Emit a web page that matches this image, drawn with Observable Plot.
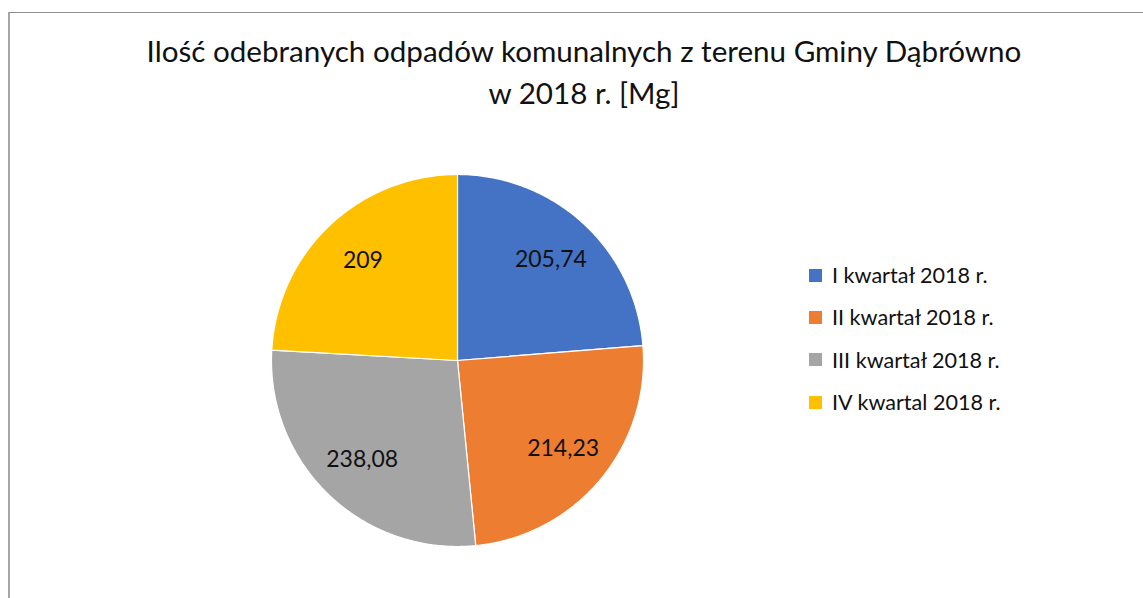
<!DOCTYPE html>
<html><head><meta charset="utf-8">
<script src="https://cdn.jsdelivr.net/npm/d3@7"></script>
<script src="https://cdn.jsdelivr.net/npm/@observablehq/plot@0.6"></script>
<style>
body{margin:0;background:#fff;font-family:Lato,"Open Sans",sans-serif;}
#wrap{position:relative;width:1143px;height:598px;overflow:hidden;background:#fff;}
#frame{position:absolute;left:8px;top:12px;width:1300px;height:800px;border-left:2px solid #a6a6a6;border-top:1px solid #8f8f8f;}
#title{position:absolute;left:0;width:1168px;top:30px;text-align:center;font-size:29.6px;line-height:42px;color:#111;}
#chart{position:absolute;left:0;top:0;}
#legend{position:absolute;left:809px;top:254px;}
.item{display:flex;align-items:center;height:42.3px;font-size:21.6px;color:#111;}
.sw{width:13px;height:13px;margin-right:10px;flex:none;}
</style></head>
<body><div id="wrap"><div id="frame"></div><div id="title"></div><div id="chart"></div><div id="legend"></div></div>
<script>
const categories = ["I kwartał 2018 r.", "II kwartał 2018 r.", "III kwartał 2018 r.", "IV kwartal 2018 r."];
const values = [205.74, 214.23, 238.08, 209];
const valueLabels = ["205,74", "214,23", "238,08", "209"];
const colors = ["#4472C4", "#ED7D31", "#A5A5A5", "#FFC000"];
const titleLines = ["Ilość odebranych odpadów komunalnych z terenu Gminy Dąbrówno", "w 2018 r. [Mg]"];

// title
document.getElementById("title").innerHTML = titleLines.map(t => `<div>${t}</div>`).join("");

// legend
document.getElementById("legend").innerHTML = categories.map((c, i) =>
  `<div class="item"><span class="sw" style="background:${colors[i]}"></span><span>${c}</span></div>`).join("");

// pie geometry from values
const arcs = d3.pie().sort(null).value(d => d)(values);
const slicePts = [];
arcs.forEach((a, i) => {
  slicePts.push({cat: categories[i], x: 0, y: 0});
  const n = Math.max(2, Math.ceil((a.endAngle - a.startAngle) / (Math.PI / 360)));
  for (let k = 0; k <= n; k++) {
    const t = a.startAngle + (a.endAngle - a.startAngle) * k / n;
    slicePts.push({cat: categories[i], x: Math.sin(t), y: Math.cos(t)});
  }
});
const labelPts = arcs.map((a, i) => {
  const m = (a.startAngle + a.endAngle) / 2;
  return {label: valueLabels[i], x: 0.74 * Math.sin(m), y: 0.74 * Math.cos(m)};
});

const R = 186, cx = 457, cy = 360, W = 1143, H = 598;
const chart = Plot.plot({
  width: W, height: H, margin: 0,
  style: {background: "transparent", overflow: "visible"},
  x: {domain: [-cx / R, (W - cx) / R], axis: null},
  y: {domain: [-(H - cy) / R, cy / R], axis: null},
  color: {domain: categories, range: colors},
  marks: [
    Plot.line(slicePts, {x: "x", y: "y", z: "cat", fill: "cat", stroke: "white", strokeWidth: 1.2, curve: "linear-closed"}),
    Plot.text(labelPts, {x: "x", y: "y", text: "label", fontSize: 23, fill: "#111", fontFamily: "Lato, 'Open Sans', sans-serif"})
  ]
});
document.getElementById("chart").appendChild(chart);
</script>
</body></html>
